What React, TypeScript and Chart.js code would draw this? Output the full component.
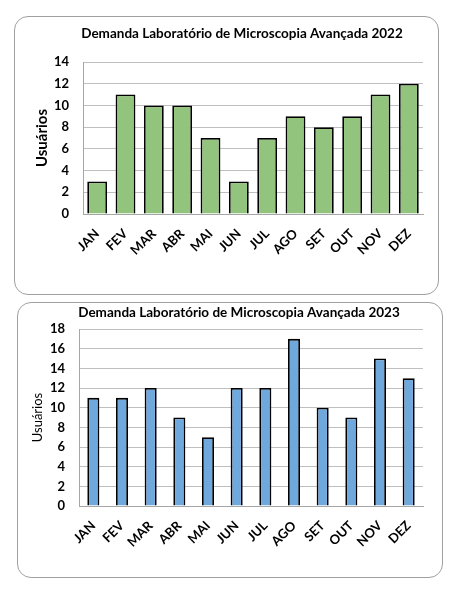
import React, { useEffect, useRef } from "react";
import { Chart, registerables } from "chart.js";

Chart.register(...registerables);

const months = ["JAN", "FEV", "MAR", "ABR", "MAI", "JUN", "JUL", "AGO", "SET", "OUT", "NOV", "DEZ"];
const users2022 = [3, 11, 10, 10, 7, 3, 7, 9, 8, 9, 11, 12];
const users2023 = [11, 11, 12, 9, 7, 12, 12, 17, 10, 9, 15, 13];
const title2022 = "Demanda Laboratório de Microscopia Avançada 2022";
const title2023 = "Demanda Laboratório de Microscopia Avançada 2023";
const yTitle = "Usuários";

const FONT = "Lato, 'Open Sans', sans-serif";

const titlePlugin = {
  id: "boxTitle",
  afterDraw(chart: any, _args: any, opts: any) {
    const ctx = chart.ctx;
    ctx.save();
    ctx.font = `bold ${opts.size}px ${FONT}`;
    ctx.fillStyle = "#000";
    ctx.textAlign = "center";
    ctx.textBaseline = "middle";
    ctx.fillText(opts.text, opts.x, opts.y);
    ctx.restore();
  },
};

type Cfg = {
  data: number[];
  color: string;
  title: string;
  titleX: number;
  titleY: number;
  max: number;
  barFrac: number;
  yTitleBold: boolean;
  yWidth: number;
  xHeight: number;
  padding: { left: number; right: number; top: number; bottom: number };
};

function BarBox({ box, cfg }: { box: { left: number; top: number; width: number; height: number }; cfg: Cfg }) {
  const ref = useRef<HTMLCanvasElement | null>(null);
  useEffect(() => {
    if (!ref.current) return;
    const chart = new Chart(ref.current, {
      type: "bar",
      data: {
        labels: months,
        datasets: [
          {
            data: cfg.data,
            backgroundColor: cfg.color,
            borderColor: "#000000",
            borderWidth: 1.8,
            barPercentage: cfg.barFrac,
            categoryPercentage: 1,
          },
        ],
      },
      plugins: [titlePlugin],
      options: {
        animation: false,
        responsive: false,
        maintainAspectRatio: false,
        layout: { padding: cfg.padding },
        plugins: {
          legend: { display: false },
          tooltip: { enabled: false },
          title: { display: false },
          // @ts-ignore
          boxTitle: { text: cfg.title, x: cfg.titleX, y: cfg.titleY, size: 13.5 },
        },
        scales: {
          x: {
            afterFit: (scale: any) => {
              scale.height = cfg.xHeight;
            },
            grid: { display: false, drawTicks: false },
            border: { display: true, color: "#A6A6A6", width: 1 },
            ticks: {
              color: "#000",
              font: { family: FONT, size: 13, weight: "bold" },
              maxRotation: 45,
              minRotation: 45,
              padding: 12,
              autoSkip: false,
            },
          },
          y: {
            min: 0,
            max: cfg.max,
            afterFit: (scale: any) => {
              scale.width = cfg.yWidth;
            },
            grid: { color: "#BFBFBF", drawTicks: false, lineWidth: 1 },
            border: { display: true, color: "#A6A6A6", width: 1 },
            ticks: {
              stepSize: 2,
              autoSkip: false,
              color: "#000",
              padding: 14,
              font: { family: FONT, size: 13, weight: "bold" },
            },
            title: {
              display: true,
              text: yTitle,
              color: "#000",
              padding: { top: 0, bottom: 4 },
              font: { family: FONT, size: cfg.yTitleBold ? 15 : 13, weight: cfg.yTitleBold ? "bold" : "normal" },
            },
          },
        },
      },
    });
    return () => chart.destroy();
  }, []);
  return (
    <div
      style={{
        position: "absolute",
        left: box.left,
        top: box.top,
        width: box.width,
        height: box.height,
        boxSizing: "border-box",
        border: "1px solid #A0A0A0",
        borderRadius: 14,
        background: "#fff",
        overflow: "hidden",
      }}
    >
      <canvas
        ref={ref}
        width={box.width - 2}
        height={box.height - 2}
        style={{ position: "absolute", left: 0, top: 0, width: box.width - 2, height: box.height - 2 }}
      />
    </div>
  );
}

export default function App() {
  return (
    <div style={{ position: "relative", width: 459, height: 594 }}>
      <BarBox
        box={{ left: 14 - 8, top: 16 - 8, width: 425, height: 279 }}
        cfg={{
          data: users2022,
          color: "#93C47D",
          title: title2022,
          titleX: 227,
          titleY: 17,
          max: 14,
          barFrac: 0.7,
          yTitleBold: true,
          yWidth: 50,
          xHeight: 50,
          padding: { left: 18, right: 15, top: 45, bottom: 30 },
        }}
      />
      <BarBox
        box={{ left: 17 - 8, top: 302 - 8, width: 426, height: 276 }}
        cfg={{
          data: users2023,
          color: "#6FA8DC",
          title: title2023,
          titleX: 221,
          titleY: 10,
          max: 18,
          barFrac: 0.42,
          yTitleBold: false,
          yWidth: 49,
          xHeight: 50,
          padding: { left: 12, right: 19, top: 26, bottom: 21 },
        }}
      />
    </div>
  );
}
